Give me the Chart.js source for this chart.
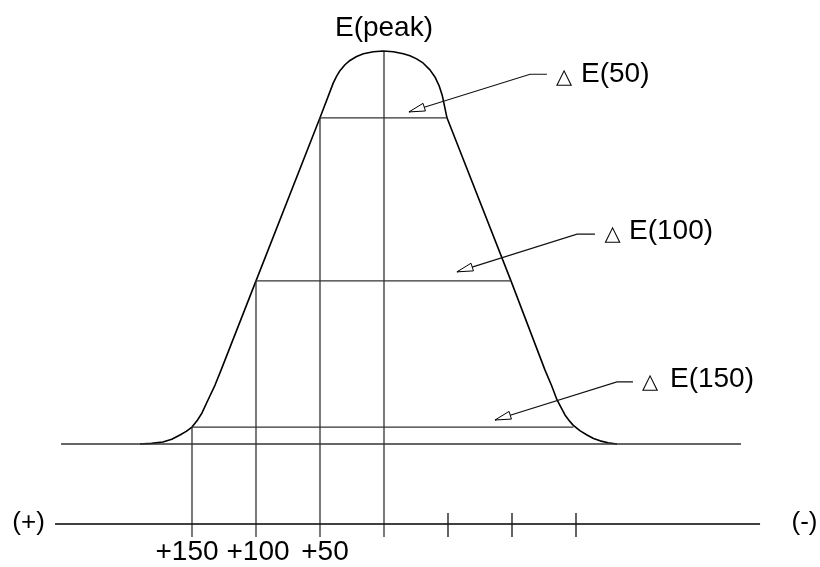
<!DOCTYPE html>
<html>
<head>
<meta charset="utf-8">
<script src="https://cdn.jsdelivr.net/npm/chart.js"></script>
<style>
  html, body { margin: 0; padding: 0; background: #fff; }
  canvas { display: block; }
</style>
</head>
<body>
<canvas id="peak" width="820" height="567"></canvas>
<script>
// peak profile: x = offset (left is +), y = % of peak height
const curveX = [190.6, 181.6, 172.7, 165.8, 159.4, 154.5, 150, 146.1, 142.2, 137.5, 132.0, 127.3, 100, 50,
    39.6, 37.0, 34.4, 30.5, 26.6, 21.4, 16.1, 8.3, 0.5,
    -7.3, -15.1, -20.3, -25.5, -30.7, -35.9, -39.8, -43.0, -45.6, -49.2,
    -99.2, -125.8, -130.9, -135.2, -138.6, -141.4, -144.6, -147.7, -153.0, -158.6, -163.7, -168.8, -175.0, -182];
const curveY = [0, 0.15, 0.5, 1.2, 2.3, 3.2, 4.3, 5.9, 7.9, 11.2, 15.0, 18.8, 41.5, 83.0,
    91.9, 93.6, 95.0, 96.5, 97.6, 98.6, 99.3, 99.8, 100,
    99.8, 99.3, 98.8, 98.0, 96.9, 95.2, 93.4, 91.2, 88.6, 83.0,
    41.5, 18.8, 14.9, 11.2, 9.1, 7.4, 6.0, 4.8, 3.4, 2.3, 1.4, 0.8, 0.3, 0];

const peakLabel = 'E(peak)';
const peakHeight = 100;

// levels
const levelNames = ['E(50)', 'E(100)', 'E(150)'];
const levelHeights = [83.0, 41.5, 4.3];
const levelLeft = [50, 100, 150];
const levelRight = [-49.2, -99.2, -148];

// bottom axis
const tickValues = [150, 100, 50, 0, -50, -100, -150];
const tickLabels = ['+150', '+100', '+50'];
const axisEnds = ['(+)', '(-)'];

// layout stuff (where things sit)
const baseSpan = [252.3, -278.9];
const axisSpan = [257, -293.8];
const axisY = -20.36, tickTop = -17.56, tickBottom = -23.66;
const tickLabelAt = [153.9, 98.4, 46.1];
const leaders = [
    { start: [-127.3, 94.1], elbow: [-114.1, 94.1], tip: [-19.5, 84.5], tri: [-140.6, 92.1], text: [-153.9, 92.1] },
    { start: [-164.8, 53.4], elbow: [-150.8, 53.4], tip: [-57.0, 43.8], tri: [-178.5, 52.2], text: [-191.4, 52.2] },
    { start: [-194.5, 15.8], elbow: [-182.0, 15.8], tip: [-86.7, 6.1], tri: [-207.8, 14.5], text: [-223.4, 14.5] }
];

function segs(list) {
    // list of [[x1,y1],[x2,y2]] -> points with gaps
    const out = [];
    list.forEach(s => {
        s.forEach(p => out.push({ x: p[0], y: p[1] }));
        out.push({ x: null, y: null });
    });
    return out;
}

const curvePts = curveX.map((x, i) => ({ x, y: curveY[i] }));

const levelSegs = levelNames.map((n, i) => [[levelLeft[i], levelHeights[i]], [levelRight[i], levelHeights[i]]]);
const vertSegs = [[[0, peakHeight], [0, tickBottom]]]
    .concat(levelLeft.map((x, i) => [[x, levelHeights[i]], [x, tickBottom]]));
const tickSegs = tickValues.filter(v => v < 0).map(v => [[v, tickTop], [v, tickBottom]]);
const leaderSegs = leaders.map(l => [l.start, l.elbow, l.tip]);

const lineDefaults = { showLine: true, pointRadius: 0, tension: 0, spanGaps: false, fill: false };
const FONT = '"Liberation Sans", Arial, sans-serif';

const annotate = {
    id: 'annotate',
    afterDatasetsDraw(chart) {
        const c = chart.ctx;
        const sx = chart.scales.x, sy = chart.scales.y;
        const px = v => sx.getPixelForValue(v);
        const py = v => sy.getPixelForValue(v);
        c.save();
        // open arrow heads
        leaders.forEach(l => {
            const tx = px(l.tip[0]), ty = py(l.tip[1]);
            const ex = px(l.elbow[0]), ey = py(l.elbow[1]);
            const a = Math.atan2(ey - ty, ex - tx);
            const len = 16, w = 4;
            const bx = tx + Math.cos(a) * len, by = ty + Math.sin(a) * len;
            c.beginPath();
            c.moveTo(tx, ty);
            c.lineTo(bx - Math.sin(a) * w, by + Math.cos(a) * w);
            c.lineTo(bx + Math.sin(a) * w, by - Math.cos(a) * w);
            c.closePath();
            c.fillStyle = '#fff';
            c.fill();
            c.strokeStyle = '#000';
            c.lineWidth = 1;
            c.stroke();
        });
        c.fillStyle = '#000';
        c.textBaseline = 'alphabetic';
        c.font = '28px ' + FONT;
        c.textAlign = 'center';
        c.fillText(peakLabel, px(0), py(103.8));
        // level labels
        leaders.forEach((l, i) => {
            c.textAlign = 'left';
            c.font = '28px ' + FONT;
            c.fillText(levelNames[i], px(l.text[0]), py(l.text[1]));
            c.textAlign = 'center';
            c.font = '21px "DejaVu Sans", sans-serif';
            c.fillText('\u25B3', px(l.tri[0]), py(l.tri[1]) + 1);
        });
        // bottom axis text
        c.font = '28px ' + FONT;
        c.textAlign = 'center';
        tickLabels.forEach((t, i) => {
            c.fillText(t, px(tickLabelAt[i]), py(-29.5));
        });
        c.font = '26px ' + FONT;
        c.fillText(axisEnds[0], px(277.7), py(-21.9));
        c.fillText(axisEnds[1], px(-328.5), py(-21.9));
        c.restore();
    }
};

new Chart(document.getElementById('peak').getContext('2d'), {
    type: 'scatter',
    data: {
        datasets: [
            Object.assign({ data: segs([[[baseSpan[0], 0], [baseSpan[1], 0]]]), borderColor: '#333', borderWidth: 1.3 }, lineDefaults),
            Object.assign({ data: segs(levelSegs), borderColor: '#333', borderWidth: 1.2 }, lineDefaults),
            Object.assign({ data: segs(vertSegs), borderColor: '#222', borderWidth: 1.2 }, lineDefaults),
            Object.assign({ data: segs(tickSegs), borderColor: '#111', borderWidth: 1.3 }, lineDefaults),
            Object.assign({ data: segs([[[axisSpan[0], axisY], [axisSpan[1], axisY]]]), borderColor: '#000', borderWidth: 1.5 }, lineDefaults),
            Object.assign({ data: segs(leaderSegs), borderColor: '#111', borderWidth: 1.1 }, lineDefaults),
            Object.assign({}, lineDefaults, { data: curvePts, borderColor: '#000', borderWidth: 1.6, borderJoinStyle: 'round' })
        ]
    },
    options: {
        responsive: false,
        animation: false,
        layout: { padding: 0 },
        plugins: { legend: { display: false }, tooltip: { enabled: false } },
        scales: {
            x: { type: 'linear', reverse: true, min: -340.625, max: 300, display: false },
            y: { type: 'linear', min: -31.3, max: 112.98, display: false }
        }
    },
    plugins: [annotate]
});
</script>
</body>
</html>
